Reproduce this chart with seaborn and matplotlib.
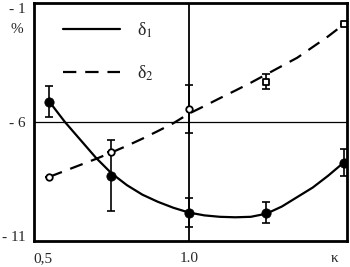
import numpy as np
import pandas as pd
import matplotlib
matplotlib.use('Agg')
import matplotlib.pyplot as plt
import seaborn as sns

sns.set_style('white')
plt.rcParams['font.family'] = ['Liberation Serif', 'DejaVu Serif']
plt.rcParams['mathtext.fontset'] = 'stix'

# measured points
k_pts = [0.55, 0.75, 1.0, 1.25, 1.5]
d1_pts = [-5.15, -8.25, -9.8, -9.8, -7.7]
d1_err = [0.65, 1.5, 0.6, 0.45, 0.55]
d2_pts = [-8.3, -7.25, -5.45, -4.3, -1.9]
d2_err = [0.0, 0.0, 1.0, 0.3, 0.0]
d2_marker = ['o', 'o', 'o', 's', 's']

# fitted curves
k_curve = [0.55, 0.6, 0.65, 0.7, 0.75, 0.8, 0.85, 0.9, 0.95, 1.0, 1.05, 1.1,
           1.15, 1.2, 1.25, 1.3, 1.35, 1.4, 1.45, 1.5]
d1_curve = [-5.15, -6.0, -6.75, -7.5, -8.15, -8.65, -9.05, -9.35, -9.6, -9.8,
            -9.92, -9.98, -10.0, -9.98, -9.85, -9.55, -9.15, -8.75, -8.25, -7.7]
d2_curve = [-8.3, -8.05, -7.8, -7.55, -7.28, -7.0, -6.7, -6.38, -6.05, -5.65,
            -5.33, -5.0, -4.68, -4.35, -4.0, -3.65, -3.3, -2.85, -2.4, -1.9]

curves = pd.DataFrame({'k': k_curve, 'd1': d1_curve, 'd2': d2_curve})
pts = pd.DataFrame({'k': k_pts, 'd1': d1_pts, 'd2': d2_pts, 'm': d2_marker})

fig = plt.figure(figsize=(3.5, 2.67), dpi=100)
ax = fig.add_axes([0.097, 0.097, 0.894, 0.892])

ax.axhline(-6, color='black', lw=0.9, zorder=1)
ax.axvline(1.0, color='black', lw=1.3, zorder=1)

sns.lineplot(data=curves, x='k', y='d1', ax=ax, color='black', lw=1.6,
             label=r'δ$_1$')
sns.lineplot(data=curves, x='k', y='d2', ax=ax, color='black', lw=1.6,
             label=r'δ$_2$')
ax.lines[-1].set_dashes([6, 4])

ax.errorbar(k_pts, d1_pts, yerr=d1_err, fmt='none', ecolor='black',
            elinewidth=1.2, capsize=3, capthick=1.2)
ax.errorbar(k_pts, d2_pts, yerr=d2_err, fmt='none', ecolor='black',
            elinewidth=1.2, capsize=3, capthick=1.2)
sns.scatterplot(data=pts, x='k', y='d1', ax=ax, color='black', s=45,
                edgecolor='black', zorder=5, legend=False)
for m, sub in pts.groupby('m'):
    sns.scatterplot(data=sub, x='k', y='d2', ax=ax, s=22, marker=m,
                    facecolor='white', edgecolor='black', linewidth=1.3,
                    zorder=5, legend=False, clip_on=False)

ax.set_xlim(0.5, 1.51)
ax.set_ylim(-11, -1)
ax.set_xticks([0.53, 1.0, 1.47])
ax.set_xticklabels(['0,5', '1.0', 'κ'], fontsize=11)
ax.set_yticks([-1, -6, -11])
ax.set_yticklabels(['- 1', '- 6', '- 11'], fontsize=11)
ylabs = ax.get_yticklabels()
ylabs[0].set_va('top')
ylabs[2].set_va('baseline')
ax.tick_params(axis='x', length=0, pad=8)
ax.tick_params(axis='y', length=3, width=1.2, direction='out', pad=3, color='black')
ax.set_xlabel('')
ax.set_ylabel('')
for s in ax.spines.values():
    s.set_color('black')
    s.set_linewidth(2)

fig.text(0.03, 0.875, '%', fontsize=11)

leg = ax.legend(loc='upper left', bbox_to_anchor=(0.04, 0.995), frameon=False,
                fontsize=13, handlelength=3.2, labelspacing=1.3, handletextpad=0.9)

fig.savefig('out.png', dpi=100)
